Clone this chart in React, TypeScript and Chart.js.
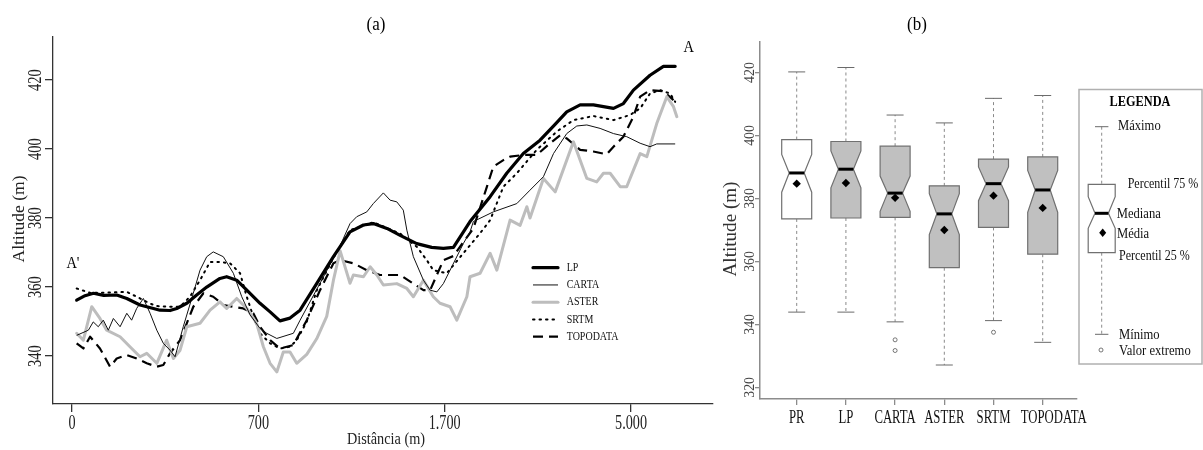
import React, { useEffect, useRef } from "react";
import { Chart, registerables } from "chart.js";
Chart.register(...registerables);

const SERIF = '"Liberation Serif", "Times New Roman", serif';

// ---------- Panel (a): altitude profiles ----------
const profileTickPositions = [0, 1, 2, 3];
const profileTickLabels = ["0", "700", "1.700", "5.000"];
const altitudeTicksA = [340, 360, 380, 400, 420];
const profileNames = ["LP", "CARTA", "ASTER", "SRTM", "TOPODATA"];

const lpProfile: [number, number][] = [
  [0.025, 356.2], [0.07, 357.5], [0.115, 358.2], [0.17, 357.6], [0.24, 357.7], [0.294, 356.7],
  [0.365, 354.8], [0.437, 353.8], [0.472, 353.3], [0.526, 353.2], [0.562, 353.8], [0.616, 355.3],
  [0.669, 357.7], [0.723, 360], [0.794, 362.5], [0.83, 363], [0.884, 362], [0.938, 359.1],
  [1.009, 355.3], [1.063, 352.8], [1.116, 350.2], [1.17, 351], [1.224, 353.3], [1.313, 361],
  [1.403, 368.8], [1.492, 376], [1.564, 378], [1.617, 378.4], [1.69, 377], [1.761, 375],
  [1.85, 372.6], [1.93, 371.5], [1.993, 371.2], [2.047, 371.5], [2.136, 379], [2.244, 386.2],
  [2.333, 393], [2.422, 398.7], [2.512, 402.6], [2.59, 407], [2.655, 410.8], [2.727, 412.8],
  [2.798, 412.8], [2.906, 411.8], [2.959, 413.2], [3.013, 417.1], [3.102, 421.4], [3.174, 424],
  [3.237, 424],
];

const cartaProfile: [number, number][] = [
  [0.025, 346], [0.088, 347.5], [0.114, 349.9], [0.141, 348.5], [0.168, 350.4], [0.195, 347.5],
  [0.222, 350.9], [0.258, 348.5], [0.294, 352.4], [0.32, 350.4], [0.347, 353.8], [0.383, 356.7],
  [0.419, 352.4], [0.455, 347.5], [0.49, 343.7], [0.526, 341.7], [0.553, 339.8], [0.597, 348.5],
  [0.651, 358.2], [0.687, 364.9], [0.723, 368.8], [0.758, 370.2], [0.812, 368.8], [0.866, 364],
  [0.911, 357.2], [0.955, 352], [1.009, 348], [1.045, 346.6], [1.099, 345.1], [1.188, 346.6],
  [1.224, 350.4], [1.331, 361.1], [1.439, 372], [1.492, 378.4], [1.528, 380.4], [1.582, 381.8],
  [1.617, 384.2], [1.671, 387.3], [1.707, 385.2], [1.743, 384.7], [1.778, 382.3], [1.797, 376.5],
  [1.832, 368.8], [1.886, 362], [1.922, 359.1], [1.958, 358.6], [1.993, 361], [2.029, 364.9],
  [2.1, 372.6], [2.136, 376], [2.154, 379], [2.261, 381.8], [2.387, 384.2], [2.458, 388.1],
  [2.53, 392], [2.584, 398.7], [2.655, 404.5], [2.709, 406.7], [2.763, 407], [2.834, 406],
  [2.906, 404.5], [2.977, 403.6], [3.049, 401.7], [3.102, 400.7], [3.138, 401.5], [3.237, 401.5],
];

const asterProfile: [number, number][] = [
  [0.025, 346.6], [0.061, 344.6], [0.106, 354.3], [0.15, 350.9], [0.186, 347.5], [0.258, 345.6],
  [0.311, 342.7], [0.365, 339.8], [0.401, 340.8], [0.455, 337.9], [0.508, 344.6], [0.544, 339.3],
  [0.58, 341.7], [0.616, 348.5], [0.687, 349.5], [0.741, 353.3], [0.794, 355.7], [0.83, 353.8],
  [0.884, 356.7], [0.938, 353.8], [0.991, 349.5], [1.027, 342.7], [1.063, 337.9], [1.099, 335.4],
  [1.134, 341.2], [1.17, 341.2], [1.206, 337.9], [1.26, 340.5], [1.313, 345], [1.367, 351.5],
  [1.403, 362], [1.439, 370.5], [1.492, 361.1], [1.51, 363.5], [1.564, 363], [1.6, 365.9],
  [1.636, 363.5], [1.671, 360.6], [1.743, 361], [1.797, 359.6], [1.832, 357.2], [1.886, 362],
  [1.939, 357.2], [1.975, 355.3], [2.029, 354.3], [2.065, 350.4], [2.119, 357.2], [2.136, 363],
  [2.19, 364], [2.244, 369.8], [2.28, 364.9], [2.351, 379.4], [2.405, 377.9], [2.441, 383.3],
  [2.458, 380], [2.53, 391.5], [2.593, 387.6], [2.691, 402.1], [2.763, 391.5], [2.816, 390.5],
  [2.852, 393], [2.888, 393], [2.942, 389.1], [2.977, 389.1], [3.013, 393.9], [3.049, 398.7],
  [3.085, 397.8], [3.138, 407.4], [3.192, 415.2], [3.228, 412.3], [3.246, 409.4],
];

const srtmProfile: [number, number][] = [
  [0.025, 359.6], [0.1, 358.3], [0.2, 358.4], [0.294, 358.6], [0.347, 357.2], [0.42, 355.2],
  [0.455, 354.5], [0.526, 354.3], [0.58, 354.3], [0.633, 357.2], [0.687, 362], [0.741, 367.3],
  [0.794, 367.3], [0.848, 366.9], [0.902, 364], [0.938, 357.2], [0.973, 351.4], [1.009, 346.6],
  [1.063, 343.7], [1.116, 342.2], [1.17, 342.7], [1.206, 344.6], [1.26, 350], [1.313, 359],
  [1.403, 368.5], [1.492, 376.5], [1.617, 378.8], [1.761, 375.5], [1.85, 371.7], [1.904, 367.8],
  [1.939, 364.9], [2.011, 364], [2.1, 369.8], [2.19, 375.6], [2.244, 379.4], [2.315, 389.1],
  [2.387, 393], [2.494, 399.8], [2.602, 405.1], [2.691, 408.4], [2.798, 409.6], [2.906, 408.4],
  [2.995, 409.9], [3.049, 411.8], [3.102, 416.1], [3.156, 417.1], [3.21, 416.1], [3.237, 413.7],
];

const topodataProfile: [number, number][] = [
  [0.025, 343.7], [0.061, 342.2], [0.097, 345.6], [0.15, 342.2], [0.204, 336.9], [0.24, 339.3],
  [0.294, 340.3], [0.347, 339.3], [0.401, 337.9], [0.455, 336.9], [0.49, 337.4], [0.526, 340.8],
  [0.58, 344.6], [0.616, 349.5], [0.651, 354.3], [0.705, 358.2], [0.758, 357.2], [0.812, 354.8],
  [0.866, 354.3], [0.919, 353.8], [0.973, 352.4], [1.009, 348.5], [1.063, 344.6], [1.116, 342.2],
  [1.188, 343.2], [1.26, 350.4], [1.331, 359.1], [1.403, 366.9], [1.439, 367.8], [1.51, 366.9],
  [1.582, 364.9], [1.653, 363.5], [1.761, 363.5], [1.832, 361], [1.886, 359.1], [1.922, 359.1],
  [1.993, 367.8], [2.047, 369], [2.1, 373], [2.154, 377], [2.226, 389], [2.261, 394.9],
  [2.315, 396.8], [2.351, 397.8], [2.422, 398.3], [2.494, 398.3], [2.566, 401.7], [2.619, 404],
  [2.655, 403.1], [2.727, 399.8], [2.798, 399.3], [2.87, 398.5], [2.906, 400.7], [2.959, 403.6],
  [3.013, 409.4], [3.049, 415.2], [3.102, 417.1], [3.174, 416.8], [3.228, 414.2],
];

const profileData = [lpProfile, cartaProfile, asterProfile, srtmProfile, topodataProfile];

const profileStyles = [
  { color: "#000000", width: 3.2, dash: [] as number[], cap: "round" },
  { color: "#111111", width: 1, dash: [] as number[], cap: "butt" },
  { color: "#bdbdbd", width: 3, dash: [] as number[], cap: "round" },
  { color: "#000000", width: 2, dash: [1.5, 5] as number[], cap: "round" },
  { color: "#000000", width: 2.2, dash: [10, 6] as number[], cap: "butt" },
];

// ---------- Panel (b): boxplots ----------
const boxCategories = ["PR", "LP", "CARTA", "ASTER", "SRTM", "TOPODATA"];
const altitudeTicksB = [320, 340, 360, 380, 400, 420];
const boxMin = [343.9, 343.9, 340.8, 327.1, 341.2, 334.3];
const boxQ1 = [373.5, 373.8, 374.0, 358.0, 370.8, 362.3];
const boxMedian = [388.1, 389.3, 381.7, 375.1, 384.7, 382.7];
const boxQ3 = [398.7, 398.1, 396.6, 384.0, 392.5, 393.2];
const boxMax = [420.2, 421.6, 406.5, 404.0, 411.8, 412.7];
const boxMean = [384.7, 384.9, 380.2, 370.0, 380.9, 377.0];
const notchLow = [382.0, 383.4, 375.9, 368.5, 379.3, 375.6];
const notchHigh = [394.0, 395.1, 387.1, 381.5, 390.0, 388.9];
const outlierCategory = [2, 2, 4];
const outlierValue = [335.1, 331.7, 337.5];
const boxFill = ["#ffffff", "#c0c0c0", "#c0c0c0", "#c0c0c0", "#c0c0c0", "#c0c0c0"];
const categoryLabelShift = [0, 0, 0, 0, 0, 11];

type TextOpts = {
  size: number; sx?: number; sy?: number; rot?: number; align?: CanvasTextAlign;
  bold?: boolean; color?: string; family?: string;
};
function drawText(ctx: CanvasRenderingContext2D, s: string, x: number, y: number, o: TextOpts) {
  ctx.save();
  ctx.translate(x, y);
  if (o.rot) ctx.rotate(o.rot);
  ctx.scale(o.sx ?? 1, o.sy ?? 1);
  ctx.font = `${o.bold ? "bold " : ""}${o.size}px ${o.family ?? SERIF}`;
  ctx.textAlign = o.align ?? "center";
  ctx.textBaseline = "middle";
  ctx.fillStyle = o.color ?? "#000";
  ctx.fillText(s, 0, 0);
  ctx.restore();
}

function line(ctx: CanvasRenderingContext2D, x1: number, y1: number, x2: number, y2: number) {
  ctx.beginPath();
  ctx.moveTo(x1, y1);
  ctx.lineTo(x2, y2);
  ctx.stroke();
}

const profileTextPlugin = {
  id: "profileText",
  afterDraw(chart: any) {
    const ctx: CanvasRenderingContext2D = chart.ctx;
    const { x, y } = chart.scales;
    altitudeTicksA.forEach((v) => {
      drawText(ctx, String(v), 36, y.getPixelForValue(v), { size: 19, sx: 0.76, rot: -Math.PI / 2, color: "#222" });
    });
    profileTickPositions.forEach((p, i) => {
      drawText(ctx, profileTickLabels[i], x.getPixelForValue(p), 424, { size: 20, sx: 0.71, color: "#222" });
    });
    drawText(ctx, "Altitude (m)", 19, 219, { size: 17.5, rot: -Math.PI / 2, color: "#222" });
    drawText(ctx, "Distância (m)", 386, 440, { size: 17, sx: 0.84, color: "#222" });
    drawText(ctx, "(a)", 376, 25, { size: 17, sy: 1.1 });
    drawText(ctx, "A'", x.getPixelForValue(0.005), y.getPixelForValue(366.9), { size: 17, sx: 0.85 });
    drawText(ctx, "A", x.getPixelForValue(3.31), y.getPixelForValue(429.4), { size: 17, sx: 0.85 });
    const ds = chart.data.datasets;
    ds.forEach((d: any, i: number) => {
      const ry = 267.7 + i * 17.25;
      ctx.save();
      ctx.strokeStyle = d.borderColor;
      ctx.lineWidth = d.borderWidth;
      ctx.setLineDash(d.borderDash || []);
      ctx.lineCap = d.borderCapStyle || "butt";
      line(ctx, 533, ry, 558, ry);
      ctx.restore();
      drawText(ctx, d.label, 566.7, ry, { size: 12.5, sx: 0.8, align: "left", color: "#111" });
    });
  },
};

const boxPlugin = {
  id: "notchedBoxes",
  beforeDatasetsDraw(chart: any) {
    const ctx: CanvasRenderingContext2D = chart.ctx;
    const { x, y } = chart.scales;
    const halfW = 15;
    const notchW = 7.5;
    const capW = 8.5;
    boxCategories.forEach((_, i) => {
      const cx = x.getPixelForValue(i);
      const pMin = y.getPixelForValue(boxMin[i]);
      const pQ1 = y.getPixelForValue(boxQ1[i]);
      const pMed = y.getPixelForValue(boxMedian[i]);
      const pQ3 = y.getPixelForValue(boxQ3[i]);
      const pMax = y.getPixelForValue(boxMax[i]);
      const pNL = y.getPixelForValue(notchLow[i]);
      const pNH = y.getPixelForValue(notchHigh[i]);
      ctx.save();
      ctx.strokeStyle = "#8a8a8a";
      ctx.lineWidth = 1;
      ctx.setLineDash([3, 3]);
      line(ctx, cx, pQ3, cx, pMax);
      line(ctx, cx, pQ1, cx, pMin);
      ctx.setLineDash([]);
      ctx.strokeStyle = "#6a6a6a";
      line(ctx, cx - capW, pMax, cx + capW, pMax);
      line(ctx, cx - capW, pMin, cx + capW, pMin);
      ctx.beginPath();
      ctx.moveTo(cx - halfW, pQ3);
      ctx.lineTo(cx + halfW, pQ3);
      ctx.lineTo(cx + halfW, pNH);
      ctx.lineTo(cx + notchW, pMed);
      ctx.lineTo(cx + halfW, pNL);
      ctx.lineTo(cx + halfW, pQ1);
      ctx.lineTo(cx - halfW, pQ1);
      ctx.lineTo(cx - halfW, pNL);
      ctx.lineTo(cx - notchW, pMed);
      ctx.lineTo(cx - halfW, pNH);
      ctx.closePath();
      ctx.fillStyle = boxFill[i];
      ctx.fill();
      ctx.strokeStyle = "#707070";
      ctx.lineWidth = 1.2;
      ctx.stroke();
      ctx.strokeStyle = "#000";
      ctx.lineWidth = 3;
      line(ctx, cx - notchW, pMed, cx + notchW, pMed);
      ctx.restore();
    });
  },
  afterDraw(chart: any) {
    const ctx: CanvasRenderingContext2D = chart.ctx;
    const { x, y } = chart.scales;
    altitudeTicksB.forEach((v) => {
      drawText(ctx, String(v), 30, y.getPixelForValue(v), { size: 15, sx: 0.92, rot: -Math.PI / 2, color: "#444" });
    });
    boxCategories.forEach((c, i) => {
      drawText(ctx, c, x.getPixelForValue(i) + categoryLabelShift[i], 418, { size: 19, sx: 0.67, color: "#111" });
    });
    drawText(ctx, "Altitude (m)", 11, 229, { size: 18, sx: 1.06, rot: -Math.PI / 2, color: "#333" });
    drawText(ctx, "(b)", 197, 25, { size: 17, sy: 1.1 });

    ctx.save();
    ctx.strokeStyle = "#b0b0b0";
    ctx.lineWidth = 1.5;
    ctx.strokeRect(359, 89.5, 123, 274.5);
    const cx = 381.7;
    const hw = 13.5;
    const nw = 6.7;
    ctx.strokeStyle = "#8a8a8a";
    ctx.lineWidth = 1;
    ctx.setLineDash([3, 3]);
    line(ctx, cx, 126.7, cx, 184.3);
    line(ctx, cx, 252.7, cx, 334.3);
    ctx.setLineDash([]);
    ctx.strokeStyle = "#6a6a6a";
    line(ctx, cx - 6.7, 126.7, cx + 6.7, 126.7);
    line(ctx, cx - 6.7, 334.3, cx + 6.7, 334.3);
    ctx.beginPath();
    ctx.moveTo(cx - hw, 184.3);
    ctx.lineTo(cx + hw, 184.3);
    ctx.lineTo(cx + hw, 196.7);
    ctx.lineTo(cx + nw, 213.3);
    ctx.lineTo(cx + hw, 228.3);
    ctx.lineTo(cx + hw, 252.7);
    ctx.lineTo(cx - hw, 252.7);
    ctx.lineTo(cx - hw, 228.3);
    ctx.lineTo(cx - nw, 213.3);
    ctx.lineTo(cx - hw, 196.7);
    ctx.closePath();
    ctx.fillStyle = "#fff";
    ctx.fill();
    ctx.strokeStyle = "#707070";
    ctx.lineWidth = 1.2;
    ctx.stroke();
    ctx.strokeStyle = "#000";
    ctx.lineWidth = 3;
    line(ctx, cx - nw, 213.3, cx + nw, 213.3);
    ctx.fillStyle = "#000";
    ctx.beginPath();
    ctx.moveTo(cx + 1, 228.5);
    ctx.lineTo(cx + 4.5, 232.7);
    ctx.lineTo(cx + 1, 236.9);
    ctx.lineTo(cx - 2.5, 232.7);
    ctx.closePath();
    ctx.fill();
    ctx.strokeStyle = "#555";
    ctx.lineWidth = 0.8;
    ctx.beginPath();
    ctx.arc(381, 350, 2, 0, Math.PI * 2);
    ctx.stroke();
    ctx.restore();
    drawText(ctx, "LEGENDA", 420, 101.7, { size: 15, sx: 0.82, bold: true });
    const lo = { size: 15, sx: 0.84, align: "left" as CanvasTextAlign, color: "#111" };
    drawText(ctx, "Máximo", 398, 126, lo);
    drawText(ctx, "Percentil 75 %", 407.7, 184, { ...lo, sx: 0.8 });
    drawText(ctx, "Mediana", 396.7, 214, lo);
    drawText(ctx, "Média", 397, 234, lo);
    drawText(ctx, "Percentil 25 %", 399, 256, { ...lo, sx: 0.8 });
    drawText(ctx, "Mínimo", 399, 335, lo);
    drawText(ctx, "Valor extremo", 399, 350.7, lo);
  },
};

export default function App() {
  const refA = useRef<HTMLCanvasElement>(null);
  const refB = useRef<HTMLCanvasElement>(null);

  useEffect(() => {
    const axisA = "#333333";
    const chartA = new Chart(refA.current!, {
      type: "line",
      data: {
        datasets: profileData.map((pts, i) => ({
          label: profileNames[i],
          data: pts.map(([px, py]) => ({ x: px, y: py })),
          borderColor: profileStyles[i].color,
          borderWidth: profileStyles[i].width,
          borderDash: profileStyles[i].dash,
          borderCapStyle: profileStyles[i].cap as CanvasLineCap,
          borderJoinStyle: "round",
          pointRadius: 0,
          tension: 0,
          fill: false,
        })),
      },
      options: {
        animation: false,
        responsive: false,
        layout: { padding: { top: 37, right: 7, left: 0, bottom: 0 } },
        plugins: { legend: { display: false }, tooltip: { enabled: false }, title: { display: false } },
        scales: {
          x: {
            type: "linear",
            min: -0.102,
            max: 3.44,
            afterBuildTicks: (s: any) => { s.ticks = profileTickPositions.map((v) => ({ value: v })); },
            afterFit: (s: any) => { s.height = 46; },
            ticks: { display: false },
            grid: { drawOnChartArea: false, drawTicks: true, tickLength: 8, color: axisA, lineWidth: 1.3 },
            border: { display: true, color: axisA, width: 1.3 },
          },
          y: {
            type: "linear",
            min: 326.1,
            max: 432.5,
            afterBuildTicks: (s: any) => { s.ticks = altitudeTicksA.map((v) => ({ value: v })); },
            afterFit: (s: any) => { s.width = 53; },
            ticks: { display: false },
            grid: { drawOnChartArea: false, drawTicks: true, tickLength: 8, color: axisA, lineWidth: 1.3 },
            border: { display: true, color: axisA, width: 1.3 },
          },
        },
      } as any,
      plugins: [profileTextPlugin],
    });

    const axisB = "#8c8c8c";
    const chartB = new Chart(refB.current!, {
      type: "scatter",
      data: {
        datasets: [
          {
            label: "Média",
            data: boxMean.map((m, i) => ({ x: i, y: m })),
            pointStyle: "rectRot",
            pointRadius: 4.2,
            backgroundColor: "#000",
            borderColor: "#000",
            borderWidth: 0,
          },
          {
            label: "Valor extremo",
            data: outlierValue.map((v, i) => ({ x: outlierCategory[i], y: v })),
            pointStyle: "circle",
            pointRadius: 2,
            backgroundColor: "rgba(0,0,0,0)",
            borderColor: "#555",
            borderWidth: 0.8,
          },
        ],
      },
      options: {
        animation: false,
        responsive: false,
        layout: { padding: { top: 42, right: 126, left: 0, bottom: 0 } },
        plugins: { legend: { display: false }, tooltip: { enabled: false }, title: { display: false } },
        scales: {
          x: {
            type: "linear",
            min: -0.746,
            max: 5.697,
            afterBuildTicks: (s: any) => { s.ticks = boxCategories.map((_, i) => ({ value: i })); },
            afterFit: (s: any) => { s.height = 51; },
            ticks: { display: false },
            grid: { drawOnChartArea: false, drawTicks: true, tickLength: 6, color: axisB, lineWidth: 1.3 },
            border: { display: true, color: axisB, width: 1.5 },
          },
          y: {
            type: "linear",
            min: 316.3,
            max: 429.7,
            afterBuildTicks: (s: any) => { s.ticks = altitudeTicksB.map((v) => ({ value: v })); },
            afterFit: (s: any) => { s.width = 40; },
            ticks: { display: false },
            grid: { drawOnChartArea: false, drawTicks: true, tickLength: 5, color: axisB, lineWidth: 1.3 },
            border: { display: true, color: axisB, width: 1.5 },
          },
        },
      } as any,
      plugins: [boxPlugin],
    });

    return () => {
      chartA.destroy();
      chartB.destroy();
    };
  }, []);

  return (
    <div style={{ position: "absolute", left: 0, top: 0, width: 1203, height: 450, background: "#fff" }}>
      <canvas ref={refA} width={720} height={450} style={{ position: "absolute", left: 0, top: 0, width: 720, height: 450 }} />
      <canvas ref={refB} width={483} height={450} style={{ position: "absolute", left: 720, top: 0, width: 483, height: 450 }} />
    </div>
  );
}
